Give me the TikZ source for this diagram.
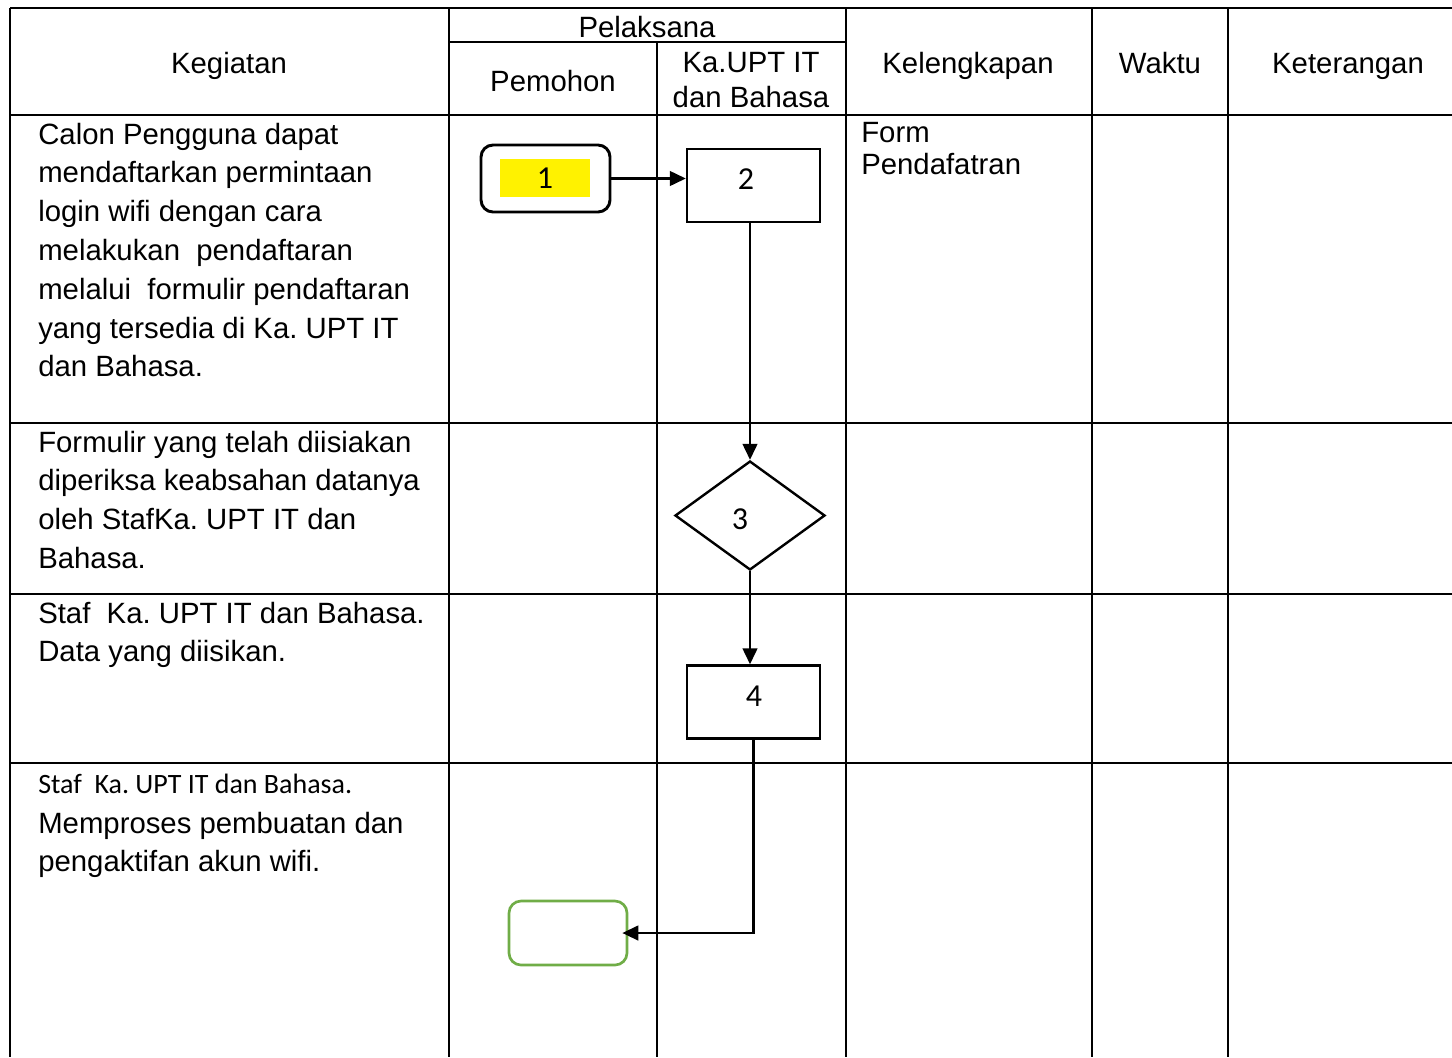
\documentclass[tikz,border=0pt]{standalone}
\usepackage{fontspec}
\setmainfont{Liberation Sans}
\newfontfamily\calibrifont{Carlito}
\usetikzlibrary{shapes.geometric,arrows.meta}
\frenchspacing

\tikzset{
  garis/.style={line width=1.9pt},
  teks/.style={inner sep=0pt, font=\fontsize{22}{29.1}\selectfont},
  judul/.style={teks, anchor=base},
  kiri/.style={teks, anchor=north west, align=left},
  angka/.style={inner sep=0pt, font=\calibrifont\fontsize{24}{28}\selectfont},
  proses/.style={draw, line width=1.8pt, minimum width=99.75pt, minimum height=54.75pt, inner sep=0pt},
  panah/.style={line width=1.8pt, -{Triangle[length=12pt,width=11pt]}}
}

\begin{document}
\begin{tikzpicture}[x=0.75pt,y=0.75pt,yscale=-1,xscale=1]
\useasboundingbox (0,0) rectangle (1452,1057);

%Table: lines
\draw[garis] (10,8) -- (1452,8);
\draw[garis] (449,42) -- (846,42);
\foreach \y in {115,423,594,763}
  \draw[garis] (10,\y) -- (1452,\y);
\foreach \x in {10,449,846,1092,1228}
  \draw[garis] (\x,8) -- (\x,1057);
\draw[garis] (657,42) -- (657,1057);

% Text Node
\node[judul] (hKegiatan) at (229,73.5) {Kegiatan};
\node[judul] (hPelaksana) at (647,37.5) {Pelaksana};
\node[judul] (hPemohon) at (553,91.5) {Pemohon};
\node[teks, align=center, font=\fontsize{22}{26.25}\selectfont] (hKaUPT) at (751,80) {Ka.UPT IT\\dan Bahasa};
\node[judul] (hKelengkapan) at (968,73.5) {Kelengkapan};
\node[judul] (hWaktu) at (1160,73.5) {Waktu};
\node[judul] (hKeterangan) at (1348,73.5) {Keterangan};

% Text Node
\node[kiri] (keg1) at (38,122.5) {Calon Pengguna dapat\\mendaftarkan permintaan\\login wifi dengan cara\\melakukan~ pendaftaran\\melalui~ formulir pendaftaran\\yang tersedia di Ka. UPT IT\\dan Bahasa.};
\node[kiri] (keg2) at (38,430.5) {Formulir yang telah diisiakan\\diperiksa keabsahan datanya\\oleh StafKa. UPT IT dan\\Bahasa.};
\node[kiri] (keg3) at (38,601.5) {Staf~ Ka. UPT IT dan Bahasa.\\Data yang diisikan.};
\node[inner sep=0pt, anchor=north west, font=\calibrifont\fontsize{21}{25}\selectfont] (keg4a) at (38,774) {Staf~ Ka. UPT IT dan Bahasa.};
\node[kiri] (keg4b) at (38,811.5) {Memproses pembuatan dan\\pengaktifan akun wifi.};
\node[kiri, font=\fontsize{22}{24}\selectfont] (form) at (861,122.5) {Form\\Pendafatran};

%Shape: Rounded rectangle 1
\node[proses, rounded corners=9pt, line width=2.2pt, minimum width=96.75pt, minimum height=50.25pt] (b1) at (545.5,178.5) {};
\node[angka, fill=yellow, minimum width=67.5pt, minimum height=28.5pt] (n1) at (545,178) {1};
%Shape: Rectangle 2
\node[proses] (b2) at (753.5,185.5) {};
\node[angka] (n2) at (746,179) {2};
%Shape: Diamond 3
\node[draw, diamond, line width=1.8pt, minimum width=112.5pt, minimum height=81.75pt, inner sep=0pt] (k3) at (750,515.5) {};
\node[angka] (n3) at (740,519) {3};
%Shape: Rectangle 4
\node[proses] (b4) at (753.5,702) {};
\node[angka] (n4) at (754,696) {4};
%Shape: Rounded rectangle end
\node[draw, rounded corners=9pt, line width=2pt, draw={rgb,255:red,112;green,173;blue,71}, minimum width=88.5pt, minimum height=48pt] (hasil) at (568,933) {};

% Arrows
\draw[panah] (b1.east) -- (b1.east -| b2.west);
\draw[panah] (b2.south -| k3.north) -- (k3.north);
\draw[panah] (k3.south) -- (k3.south |- b4.north);
\draw[panah, shorten >=-4.5pt] (b4.south) |- (hasil.east);

\end{tikzpicture}
\end{document}
